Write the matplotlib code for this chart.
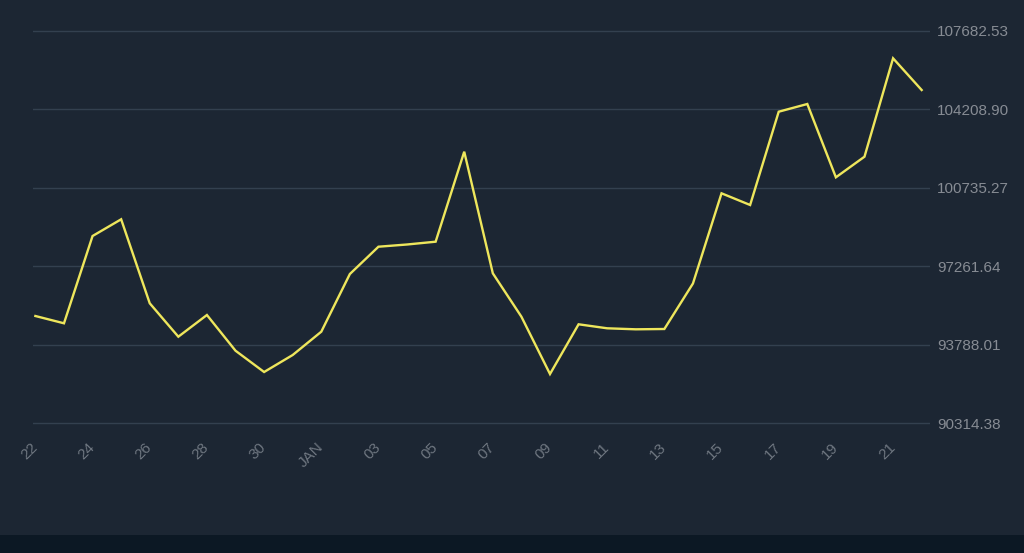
import matplotlib.pyplot as plt
import pandas as pd
from matplotlib.patches import Rectangle

dates = pd.date_range('2024-12-22', '2025-01-22', freq='D')
prices = [95058, 94735, 98598, 99337, 95620, 94142, 95102, 93522, 92580, 93332,
          94363, 96916, 98124, 98222, 98346, 102328, 96947, 95027, 92491, 94691,
          94514, 94469, 94483, 96496, 100487, 99970, 104098, 104439, 101195, 102107,
          106461, 105058]
y_ticks = [90314.38, 93788.01, 97261.64, 100735.27, 104208.90, 107682.53]

bg = '#1c2633'
fig = plt.figure(figsize=(10.24, 5.53), dpi=100, facecolor=bg)
# a few px of slack above/below the outer gridlines so they are not clipped
pad_px = 5
per_px = (y_ticks[-1] - y_ticks[0]) / 392.5
ax = fig.add_axes([33 / 1024, (553 - 423.2 - pad_px) / 553, (930 - 33) / 1024,
                   (392.5 + 2 * pad_px) / 553])
ax.set_facecolor(bg)

ax.plot(dates, prices, color='#eee65c', lw=1.7, solid_joinstyle='miter')

ax.set_ylim(y_ticks[0] - pad_px * per_px, y_ticks[-1] + pad_px * per_px)
ax.set_xlim(dates[0] - pd.Timedelta(hours=2), dates[-1] + pd.Timedelta(hours=7))
ax.set_yticks(y_ticks)
ax.set_yticklabels([f'{v:.2f}' for v in y_ticks])
ax.yaxis.tick_right()
ax.grid(axis='y', color='#33404f', lw=1)
ax.set_axisbelow(True)

xt = dates[::2]
ax.set_xticks(xt)
ax.set_xticklabels(['JAN' if (d.month == 1 and d.day == 1) else f'{d.day:02d}' for d in xt])

for s in ax.spines.values():
    s.set_visible(False)
ax.tick_params(axis='both', length=0)
ax.tick_params(axis='y', pad=5, labelsize=11, labelcolor='#878c94')
ax.tick_params(axis='x', pad=12, labelsize=11, labelcolor='#6e7680')
for lab in ax.get_yticklabels():
    lab.set_fontfamily('Liberation Sans')
for lab in ax.get_xticklabels():
    lab.set_fontfamily('Liberation Sans')
    lab.set_rotation(45)
    lab.set_ha('right')
    lab.set_va('center')
    lab.set_rotation_mode('anchor')

fig.patches.append(Rectangle((0, 0), 1, 18 / 553, transform=fig.transFigure,
                             facecolor='#0c1824', edgecolor='none'))

fig.savefig('out.png', dpi=100, facecolor=bg)
